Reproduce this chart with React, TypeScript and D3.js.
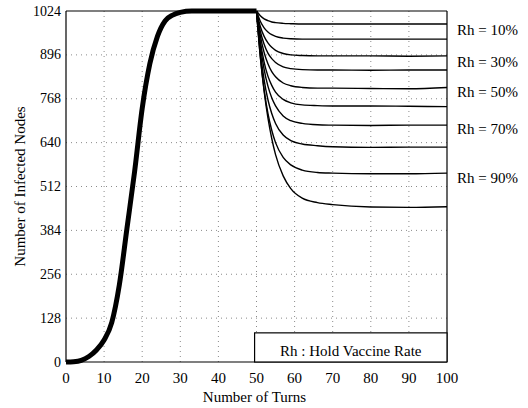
import React from 'react';
import * as d3 from 'd3';

// infection spread before vaccination (turns 0-50)
const riseTurns = [0, 2, 4, 6, 8, 10, 12, 14, 16, 18, 20, 22, 24, 26, 28, 30, 33, 36, 40, 45, 50];
const riseValues = [0, 1, 5, 16, 35, 64, 115, 225, 390, 555, 740, 870, 950, 995, 1012, 1020, 1024, 1024, 1024, 1024, 1024];

// after vaccination at turn 50, one series per hold vaccine rate
const decayTurns = [50, 51, 52, 53, 54, 55, 57, 59, 62, 66, 70, 80, 90, 100];
const rh10 = [1024, 1010, 1001, 996, 992, 990, 988, 987, 986, 986, 986, 986, 986, 986];
const rh20 = [1024, 994, 975, 963, 955, 950, 945, 943, 942, 942, 942, 942, 942, 942];
const rh30 = [1024, 979, 950, 931, 918, 909, 900, 896, 894, 893, 893, 893, 892, 893];
const rh40 = [1024, 965, 927, 901, 885, 874, 861, 856, 853, 852, 852, 851, 852, 852];
const rh50 = [1024, 952, 903, 870, 847, 832, 814, 806, 801, 799, 799, 798, 797, 801];
const rh60 = [1024, 936, 875, 834, 807, 787, 766, 756, 750, 748, 747, 747, 746, 745];
const rh70 = [1024, 924, 854, 805, 771, 747, 718, 704, 696, 692, 691, 690, 691, 691];
const rh80 = [1024, 906, 823, 765, 725, 696, 662, 646, 636, 631, 628, 626, 627, 627];
const rh90 = [1024, 890, 794, 725, 676, 640, 597, 575, 560, 553, 551, 549, 549, 551];
const rh100 = [1024, 892, 790, 712, 652, 605, 543, 506, 478, 465, 459, 452, 451, 453];
const decaySeries = [rh10, rh20, rh30, rh40, rh50, rh60, rh70, rh80, rh90, rh100];

const rhLabels = ['Rh = 10%', 'Rh = 30%', 'Rh = 50%', 'Rh = 70%', 'Rh = 90%'];
const rhLabelAt = [968, 875, 787, 679, 536];

const xTicks = [0, 10, 20, 30, 40, 50, 60, 70, 80, 90, 100];
const yTicks = [0, 128, 256, 384, 512, 640, 768, 896, 1024];

const legendText = 'Rh : Hold Vaccine Rate';

const W = 528;
const H = 408;
const margin = { top: 11, right: 81, bottom: 46, left: 66 };
const font = "'Liberation Serif', 'DejaVu Serif', serif";

export default function App() {
  const x = d3.scaleLinear().domain([0, 100]).range([margin.left, W - margin.right]);
  const y = d3.scaleLinear().domain([0, 1024]).range([H - margin.bottom, margin.top]);

  const line = d3.line<[number, number]>()
    .x(d => x(d[0]))
    .y(d => y(d[1]))
    .curve(d3.curveMonotoneX);

  const risePath = line(riseTurns.map((t, i) => [t, riseValues[i]]) as [number, number][]);
  const decayPaths = decaySeries.map(s => line(decayTurns.map((t, i) => [t, s[i]]) as [number, number][]));

  const x0 = x(0), x1 = x(100), y0 = y(0), y1 = y(1024);
  const txt = { fontFamily: font };

  return (
    <svg width={W} height={H} style={{ position: 'absolute', left: 0, top: 0, background: '#fff', fontFamily: font }}>
      {/* grid */}
      <g stroke="#8a8a8a" strokeWidth={1} strokeDasharray="1 4">
        {xTicks.filter(t => t > 0 && t < 100).map(t => (
          <line key={'gx' + t} x1={x(t)} x2={x(t)} y1={y1} y2={y0} />
        ))}
        {yTicks.filter(t => t > 0 && t < 1024).map(t => (
          <line key={'gy' + t} x1={x0} x2={x1} y1={y(t)} y2={y(t)} />
        ))}
      </g>

      {/* frame */}
      <g stroke="#000" strokeWidth={1.2} fill="none">
        <line x1={x0} x2={x0} y1={y1} y2={y0} />
        <line x1={x0} x2={x1} y1={y0} y2={y0} />
        <line x1={x0} x2={x1} y1={y1} y2={y1} />
        <line x1={x1} x2={x1} y1={y1} y2={y0} />
      </g>

      {/* curves */}
      <path d={risePath || ''} fill="none" stroke="#000" strokeWidth={5} strokeLinejoin="round" />
      {decayPaths.map((p, i) => (
        <path key={i} d={p || ''} fill="none" stroke="#000" strokeWidth={1.4} />
      ))}

      {/* y tick labels */}
      {yTicks.map(t => (
        <text key={'yl' + t} style={txt} x={x0 - 5} y={y(t)} textAnchor="end" dominantBaseline="central" fontSize={14}>
          {t}
        </text>
      ))}
      {/* x tick labels */}
      {xTicks.map(t => (
        <text key={'xl' + t} style={txt} x={x(t)} y={y0 + 21} textAnchor="middle" fontSize={15}>
          {t}
        </text>
      ))}

      <text style={txt} x={(x0 + x1) / 2 - 2} y={H - 6} textAnchor="middle" fontSize={15}>Number of Turns</text>
      <text style={txt} transform={`translate(25,${(y0 + y1) / 2}) rotate(-90)`} textAnchor="middle" fontSize={15}>
        Number of Infected Nodes
      </text>

      {/* Rh annotations */}
      {rhLabels.map((l, i) => (
        <text key={l} style={txt} x={x1 + 10} y={y(rhLabelAt[i])} dominantBaseline="central" fontSize={15}>{l}</text>
      ))}

      {/* legend box */}
      <rect x={x(49.5)} y={y(85)} width={x1 - x(49.5)} height={y0 - y(85)} fill="#fff" stroke="#000" strokeWidth={1.2} />
      <text style={txt} x={(x(49.5) + x1) / 2} y={y0 - 6} textAnchor="middle" fontSize={15}>{legendText}</text>
    </svg>
  );
}
